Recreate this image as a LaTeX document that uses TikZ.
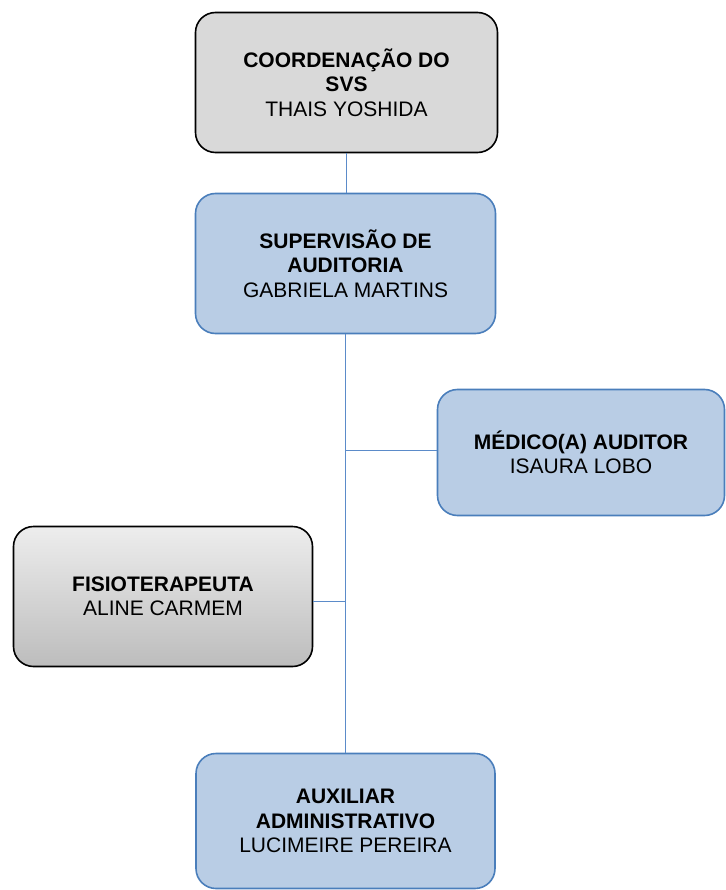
\documentclass[tikz,border=0pt]{standalone}
\usepackage{fontspec}
\setmainfont{Liberation Sans}
\usepackage{tikz}
\usetikzlibrary{positioning}
\definecolor{chefia}{HTML}{D9D9D9}
\definecolor{equipe}{HTML}{B9CDE5}
\definecolor{equipeborda}{HTML}{4A7EBB}
\definecolor{ligacao}{HTML}{5B8BC9}

\begin{document}
\begin{tikzpicture}[
  x=1pt, y=-1pt,
  cargo/.style={draw, rounded corners=20pt, line width=1.6pt, align=center,
                font=\fontsize{21}{24.5}\selectfont, inner sep=0pt},
  cinza/.style={cargo, fill=chefia, draw=black},
  azul/.style={cargo, fill=equipe, draw=equipeborda},
  degrade/.style={cargo, draw=black, top color=gray!14, bottom color=gray!52},
  elo/.style={draw=ligacao, line width=1.1pt}
]
  \useasboundingbox (0,0) rectangle (725,890);

  \node[cinza, minimum width=302pt, minimum height=140pt] (coord) at (346.5,82.5) {
    \textbf{COORDENAÇÃO DO}\\\textbf{SVS}\\THAIS YOSHIDA
  };
  \node[azul, minimum width=300pt, minimum height=140pt] (sup) at (345.5,263.5) {
    \textbf{SUPERVISÃO DE}\\\textbf{AUDITORIA}\\GABRIELA MARTINS
  };
  \node[azul, minimum width=287pt, minimum height=126pt] (med) at (581,452.5) {
    \textbf{MÉDICO(A) AUDITOR}\\ISAURA LOBO
  };
  \node[degrade, minimum width=299pt, minimum height=140pt] (fis) at (163,596.5) {
    \textbf{FISIOTERAPEUTA}\\ALINE CARMEM
  };
  \node[azul, minimum width=299pt, minimum height=135pt] (aux) at (345.5,821) {
    \textbf{AUXILIAR}\\\textbf{ADMINISTRATIVO}\\LUCIMEIRE PEREIRA
  };

  \draw[elo] (coord.south) -- (coord.south |- sup.north);
  \draw[elo] (sup.south) -- (sup.south |- aux.north);
  \draw[elo] ([yshift=2pt]med.west) -- ([yshift=2pt]med.west -| sup.south);
  \draw[elo] ([yshift=-5pt]fis.east) -- ([yshift=-5pt]fis.east -| sup.south);
\end{tikzpicture}
\end{document}
